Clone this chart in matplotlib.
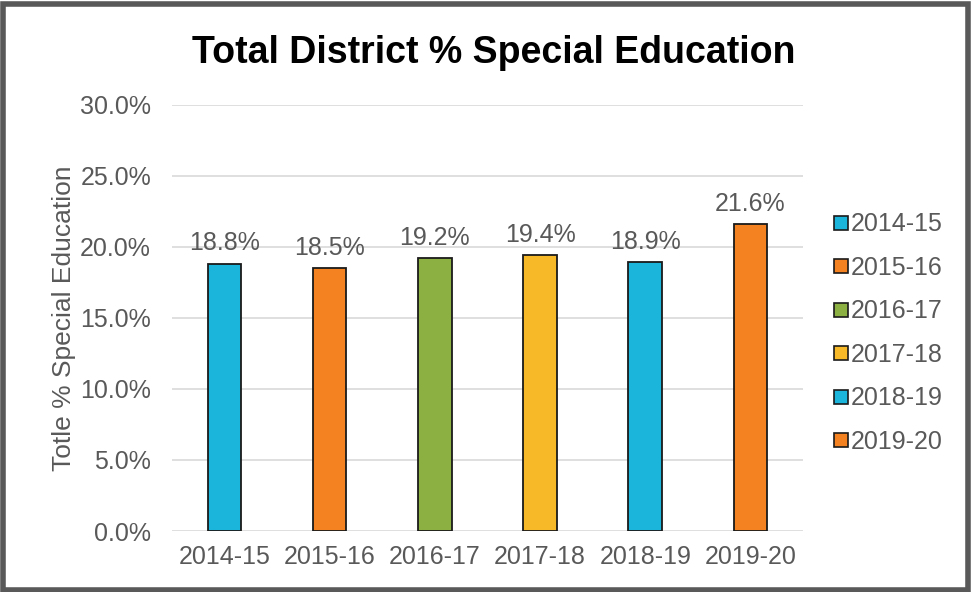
import matplotlib
matplotlib.use("Agg")
import matplotlib.pyplot as plt
from matplotlib.patches import Rectangle
from matplotlib.lines import Line2D

categories = ["2014-15", "2015-16", "2016-17", "2017-18", "2018-19", "2019-20"]
values = [18.8, 18.5, 19.2, 19.4, 18.9, 21.6]
colors = ["#1BB4DA", "#F58220", "#8DB042", "#F7B928", "#1BB4DA", "#F58220"]
yticks = [0, 5, 10, 15, 20, 25, 30]

plt.rcParams['font.family'] = ['Liberation Sans', 'DejaVu Sans']
fig = plt.figure(figsize=(9.71, 5.92), dpi=100)
ax = fig.add_axes([0.177, 0.103, 0.650, 0.720])

x = range(len(categories))
ax.bar(x, values, width=0.32, color=colors, edgecolor="#1a1a1a", linewidth=1.3, zorder=3)
for xi, v in zip(x, values):
    ax.text(xi, v + 0.6, f"{v:.1f}%", ha="center", va="bottom", fontsize=18, color="#595959")

ax.set_xlim(-0.5, len(categories) - 0.5)
ax.set_ylim(0, 30)
ax.set_yticks(yticks)
ax.set_yticklabels([f"{t:.1f}%" for t in yticks])
ax.set_xticks(list(x))
ax.set_xticklabels(categories)
ax.tick_params(axis="both", length=0, labelsize=18, labelcolor="#595959")
ax.tick_params(axis="y", pad=15)
ax.tick_params(axis="x", pad=10)
ax.grid(axis="y", color="#D9D9D9", linewidth=1.2, zorder=0)
for s in ax.spines.values():
    s.set_visible(False)
ax.set_ylabel("Totle % Special Education", fontsize=19, color="#595959", labelpad=3)

fig.text(0.508, 0.910, "Total District % Special Education", ha="center", va="center",
         fontsize=27, fontweight="bold", color="#000000")

handles = [Line2D([], [], marker="s", linestyle="none", markersize=10,
                  markerfacecolor=c, markeredgecolor="#1a1a1a", markeredgewidth=1.2)
           for c in colors]
fig.legend(handles, categories, loc="upper left", bbox_to_anchor=(0.847, 0.658),
           frameon=False, fontsize=18, labelcolor="#595959", handletextpad=0.05,
           labelspacing=0.78, handlelength=0.7, borderaxespad=0)

fig.add_artist(Rectangle((0.003, 0.004), 0.994, 0.99, transform=fig.transFigure,
                         fill=False, edgecolor="#595959", linewidth=4))

fig.savefig("out.png", dpi=100)
